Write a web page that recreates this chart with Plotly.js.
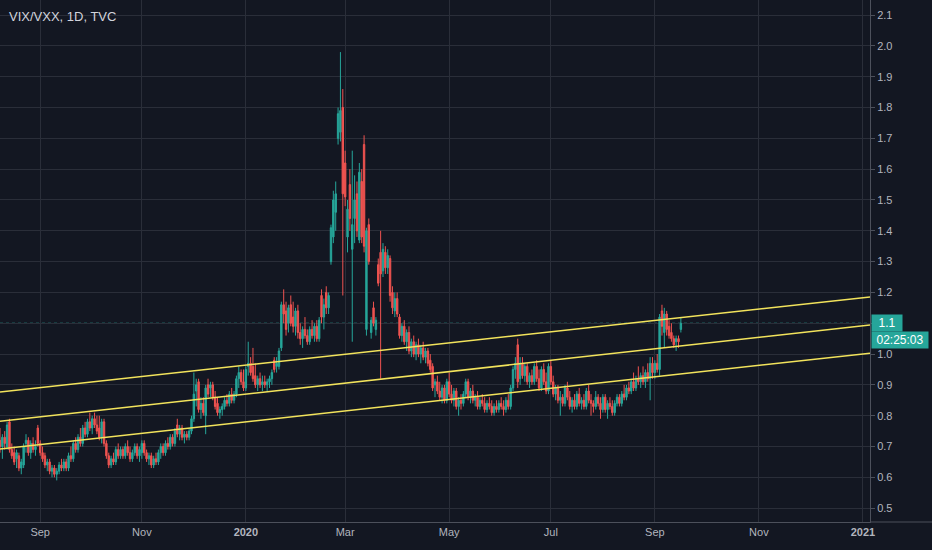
<!DOCTYPE html>
<html>
<head>
<meta charset="utf-8">
<script src="https://cdn.plot.ly/plotly-3.0.1.min.js"></script>
<style>
html,body{margin:0;padding:0;background:#131722;}
#chart{width:932px;height:550px;}
</style>
</head>
<body>
<div id="chart"></div>
<script>
// Daily OHLC of VIX/VXX, from 2019-08-09 (weekdays), one line per month
const open = [
.72,.70,.73,.70,.78,.69,.68,.66,.67,.63,.64,.71,.72,.68,.71,.69,
.76,.71,.68,.67,.64,.65,.62,.63,.61,.62,.64,.63,.65,.63,.67,.66,.71,.69,.73,.71,.76,
.74,.78,.76,.79,.77,.76,.73,.78,.71,.67,.64,.66,.65,.69,.67,.69,.67,.70,.68,.66,.68,.70,.67,
.68,.71,.68,.66,.67,.64,.66,.65,.68,.70,.68,.71,.70,.73,.71,.77,.74,.76,.73,.74,.73,
.75,.79,.88,.91,.82,.84,.80,.90,.89,.90,.86,.84,.81,.82,.83,.85,.84,.87,.85,.87,.92,.94,
.91,.89,.96,.97,.96,.93,.90,.92,.90,.91,.90,.91,.92,.98,.96,.96,1.02,1.16,1.14,1.10,1.16,1.12,1.09,
1.14,1.07,1.05,1.08,1.06,1.04,1.08,1.06,1.09,1.05,1.19,1.12,1.20,1.15,1.30,1.38,1.46,1.70,1.72,1.80,
1.62,1.38,1.55,1.34,1.44,1.52,1.37,1.56,1.68,1.08,1.42,1.07,1.15,1.08,1.29,1.33,1.27,1.33,1.28,1.31,1.20,1.14,
1.18,1.12,1.06,1.09,1.04,1.07,1.01,1.04,1.00,1.03,1.00,1.02,0.99,1.01,0.98,0.96,0.90,0.91,0.88,0.86,0.89,0.85,
0.91,0.87,0.85,0.88,0.83,0.85,0.84,0.87,0.91,0.86,0.88,0.85,0.86,0.83,0.85,0.84,0.82,0.84,0.83,0.81,0.83,
0.82,0.84,0.83,0.82,0.85,0.83,0.89,0.95,1.03,0.92,0.97,0.93,0.96,0.91,0.93,0.91,0.96,0.92,0.89,0.95,0.91,0.88,
0.96,0.91,0.87,0.89,0.85,0.86,0.84,0.89,0.86,0.83,0.85,0.83,0.87,0.84,0.85,0.83,0.88,0.85,0.84,0.83,0.86,0.84,0.82,
0.86,0.82,0.84,0.83,0.81,0.84,0.86,0.84,0.87,0.86,0.89,0.88,0.91,0.89,0.92,0.91,0.93,0.91,0.94,0.92,0.97,
0.94,0.97,0.95,1.14,1.07,1.13,1.09,1.07,1.05,1.04,1.05,1.08
];
const high = [
.76,.74,.75,.78,.79,.71,.70,.69,.68,.66,.71,.74,.73,.72,.73,.72,
.77,.72,.70,.68,.66,.66,.64,.64,.63,.65,.66,.66,.66,.68,.70,.72,.73,.74,.76,.77,.78,
.79,.81,.80,.81,.80,.80,.79,.79,.72,.68,.67,.68,.70,.71,.70,.70,.71,.72,.70,.69,.71,.71,.70,
.72,.72,.69,.68,.68,.67,.68,.69,.71,.71,.72,.73,.74,.74,.76,.79,.77,.77,.75,.75,.76,
.80,.94,.92,.92,.86,.86,.90,.92,.91,.91,.88,.86,.83,.84,.86,.87,.88,.89,.88,.93,.96,.95,
.95,.96,1.04,.99,1.02,.97,.93,.94,.93,.93,.92,.93,.95,.99,.99,1.02,1.17,1.21,1.17,1.16,1.19,1.17,1.15,
1.16,1.10,1.09,1.12,1.08,1.09,1.11,1.10,1.11,1.12,1.21,1.18,1.22,1.20,1.42,1.53,1.56,1.80,1.98,1.86,
1.66,1.50,1.60,1.66,1.58,1.56,1.62,1.60,1.71,1.41,1.44,1.12,1.17,1.12,1.31,1.40,1.36,1.35,1.34,1.32,1.22,1.20,
1.20,1.13,1.10,1.11,1.08,1.09,1.05,1.06,1.04,1.05,1.03,1.04,1.02,1.02,1.00,0.97,0.92,0.93,0.91,0.90,0.90,0.92,
0.94,0.90,0.89,0.89,0.86,0.87,0.88,0.92,0.92,0.89,0.90,0.87,0.88,0.86,0.87,0.86,0.85,0.86,0.85,0.84,0.85,
0.85,0.86,0.85,0.86,0.87,0.90,0.96,0.99,1.05,0.99,0.99,0.97,0.97,0.94,0.95,0.97,0.98,0.95,0.96,0.97,0.94,0.97,
0.98,0.93,0.90,0.90,0.88,0.87,0.90,0.91,0.88,0.86,0.87,0.88,0.89,0.86,0.87,0.89,0.90,0.87,0.85,0.88,0.87,0.86,0.87,
0.87,0.85,0.86,0.85,0.85,0.87,0.87,0.88,0.90,0.90,0.91,0.92,0.94,0.93,0.96,0.94,0.96,0.95,0.97,0.99,0.99,
0.98,1.00,1.13,1.16,1.15,1.14,1.11,1.10,1.06,1.06,1.06,1.12
];
const low = [
.68,.66,.69,.69,.68,.66,.64,.63,.62,.61,.63,.68,.67,.66,.68,.67,
.70,.67,.65,.63,.62,.61,.60,.60,.59,.61,.62,.62,.62,.62,.65,.65,.68,.68,.70,.70,.73,
.73,.75,.74,.76,.74,.72,.71,.70,.66,.63,.63,.64,.64,.66,.66,.66,.66,.67,.65,.65,.67,.66,.65,
.66,.67,.65,.64,.63,.63,.64,.64,.66,.67,.67,.69,.69,.70,.70,.73,.72,.72,.71,.72,.72,
.74,.78,.83,.81,.79,.80,.74,.86,.86,.85,.82,.80,.79,.80,.82,.83,.83,.84,.84,.86,.89,.90,
.88,.88,.93,.93,.91,.89,.88,.89,.88,.89,.88,.89,.90,.94,.94,.95,1.01,1.10,1.06,1.07,1.09,1.07,1.06,
1.05,1.03,1.02,1.05,1.03,1.03,1.05,1.04,1.04,1.04,1.10,1.08,1.13,1.13,1.29,1.36,1.40,1.68,1.69,1.19,
1.48,1.33,1.40,1.04,1.36,1.38,1.36,1.36,1.33,1.06,1.29,1.05,1.09,1.06,1.22,0.92,1.25,1.26,1.26,1.17,1.13,1.12,
1.12,1.05,1.04,1.03,1.01,1.00,0.99,0.99,0.98,0.99,0.97,0.98,0.97,0.96,0.94,0.88,0.86,0.87,0.85,0.84,0.84,0.84,
0.86,0.84,0.83,0.82,0.80,0.82,0.83,0.86,0.85,0.84,0.84,0.83,0.82,0.82,0.83,0.81,0.81,0.82,0.80,0.80,0.81,
0.81,0.82,0.80,0.81,0.82,0.82,0.88,0.92,0.89,0.90,0.92,0.91,0.90,0.89,0.90,0.90,0.91,0.88,0.88,0.90,0.87,0.87,
0.90,0.86,0.85,0.84,0.80,0.83,0.83,0.85,0.82,0.81,0.82,0.82,0.83,0.82,0.82,0.82,0.84,0.80,0.81,0.82,0.83,0.79,0.81,
0.81,0.79,0.82,0.80,0.80,0.83,0.83,0.83,0.85,0.85,0.87,0.87,0.88,0.88,0.90,0.89,0.90,0.89,0.91,0.85,0.92,
0.92,0.94,0.93,1.06,1.02,1.06,1.05,1.04,1.02,1.01,1.02,1.07
];
const close = [
.70,.73,.71,.77,.69,.67,.65,.68,.63,.65,.70,.72,.68,.71,.69,.70,
.71,.68,.66,.64,.65,.62,.63,.61,.62,.64,.63,.65,.63,.67,.66,.71,.69,.73,.71,.76,.74,
.78,.76,.79,.77,.75,.73,.78,.71,.67,.64,.66,.65,.69,.67,.69,.67,.70,.68,.66,.68,.70,.67,.69,
.71,.68,.66,.67,.64,.66,.65,.68,.70,.68,.71,.70,.73,.71,.75,.74,.76,.73,.74,.73,.75,
.79,.87,.90,.82,.84,.81,.89,.87,.90,.86,.83,.81,.82,.83,.85,.84,.87,.85,.87,.92,.94,.91,
.89,.95,.97,.94,.92,.90,.92,.90,.91,.90,.91,.92,.94,.95,.97,1.01,1.16,1.13,1.08,1.15,1.10,1.09,1.14,
1.07,1.05,1.08,1.06,1.04,1.08,1.06,1.09,1.05,1.11,1.12,1.16,1.15,1.19,1.41,1.50,1.52,1.78,1.79,1.52,
1.51,1.47,1.44,1.42,1.50,1.40,1.59,1.38,1.35,1.40,1.30,1.11,1.10,1.11,1.23,1.26,1.34,1.28,1.32,1.19,1.15,1.18,
1.13,1.06,1.09,1.04,1.07,1.01,1.04,1.00,1.03,1.00,1.02,0.99,1.01,0.97,0.95,0.89,0.91,0.88,0.86,0.89,0.85,0.91,
0.87,0.85,0.88,0.83,0.85,0.84,0.87,0.91,0.86,0.88,0.85,0.86,0.83,0.85,0.84,0.82,0.84,0.83,0.81,0.83,0.82,
0.84,0.83,0.82,0.85,0.83,0.89,0.95,0.97,0.91,0.97,0.93,0.96,0.91,0.93,0.91,0.96,0.92,0.89,0.95,0.91,0.88,0.96,
0.91,0.87,0.89,0.85,0.86,0.84,0.89,0.86,0.83,0.85,0.83,0.87,0.84,0.85,0.83,0.88,0.85,0.84,0.83,0.86,0.84,0.82,0.86,
0.82,0.84,0.83,0.81,0.84,0.86,0.84,0.87,0.86,0.89,0.88,0.91,0.89,0.92,0.91,0.93,0.91,0.94,0.92,0.97,0.94,
0.97,0.95,1.12,1.09,1.13,1.08,1.06,1.05,1.03,1.05,1.04,1.10
];

// Month tick labels (first trading day of each month) and text
const tickDates  = ['2019-09-03','2019-11-01','2020-01-02','2020-03-02','2020-05-01','2020-07-01','2020-09-01','2020-11-02','2021-01-01'];
const tickLabels = ['Sep','Nov','<b>2020</b>','Mar','May','Jul','Sep','Nov','<b>2021</b>'];
// Price-axis ticks
const yTicks = [0.5,0.6,0.7,0.8,0.9,1.0,1.1,1.2,1.3,1.4,1.5,1.6,1.7,1.8,1.9,2.0,2.1];

// Parallel channel (values at the left and right edges of the view)
const channelTop = [0.877, 1.185];
const channelMid = [0.782, 1.094];
const channelBot = [0.692, 1.003];

const startDate = '2019-08-09';
const countdown = '02:25:03';
const titleText = 'VIX/VXX, 1D, TVC';

// weekday calendar -> bar index
const dates = [];
{
  let d = new Date(startDate + 'T00:00:00Z');
  while (dates.length < close.length + 120) {
    const wd = d.getUTCDay();
    if (wd !== 0 && wd !== 6) dates.push(d.toISOString().slice(0, 10));
    d = new Date(d.getTime() + 86400000);
  }
}
const xIdx = close.map((_, i) => i);
const tickvals = tickDates.map(s => dates.indexOf(s));
const xRange = [0, 368];
const yRange = [0.455, 2.149];

const UP = '#26a69a', DOWN = '#ef5350', YEL = '#f2e35c';
const last = close[close.length - 1];
const lastLabel = last.toFixed(1);
// the live price box covers its own tick label on the price axis
const yTickText = yTicks.map(v => v.toFixed(1) === lastLabel ? '' : v.toFixed(1));

const traces = [
  {type:'scatter', mode:'lines', x:xRange, y:channelTop, line:{color:YEL, width:1.5}, hoverinfo:'skip', showlegend:false},
  {type:'scatter', mode:'lines', x:xRange, y:channelMid, line:{color:YEL, width:1.5}, hoverinfo:'skip', showlegend:false},
  {type:'scatter', mode:'lines', x:xRange, y:channelBot, line:{color:YEL, width:1.5}, hoverinfo:'skip', showlegend:false},
  {
    type:'candlestick', x:xIdx, open:open, high:high, low:low, close:close,
    increasing:{line:{color:UP, width:1}, fillcolor:UP},
    decreasing:{line:{color:DOWN, width:1}, fillcolor:DOWN},
    whiskerwidth:0, hoverinfo:'skip', showlegend:false
  }
];

const fontFam = '"Liberation Sans", "DejaVu Sans", sans-serif';
const layout = {
  width:932, height:550,
  paper_bgcolor:'#131722', plot_bgcolor:'#131722',
  margin:{l:0, r:62, t:0, b:28},
  showlegend:false,
  boxgap:0.15,
  font:{family:fontFam, color:'#b2b5be', size:11},
  xaxis:{
    type:'linear', range:xRange, rangeslider:{visible:false},
    tickvals:tickvals, ticktext:tickLabels,
    showgrid:true, gridcolor:'#2a2e39', gridwidth:1,
    zeroline:false, showline:true, linecolor:'#4c505b', linewidth:1,
    ticks:'', tickfont:{size:11, color:'#b2b5be'}, fixedrange:true
  },
  yaxis:{
    side:'right', range:yRange, tickvals:yTicks, ticktext:yTickText,
    showgrid:true, gridcolor:'#2a2e39', gridwidth:1,
    zeroline:false, showline:true, linecolor:'#4c505b', linewidth:1,
    ticks:'outside', ticklen:4, tickcolor:'#4c505b',
    tickfont:{size:11, color:'#b2b5be'}, fixedrange:true
  },
  shapes:[
    {type:'line', xref:'paper', yref:'y', x0:0, x1:1, y0:last, y1:last,
     line:{color:UP, width:1, dash:'dot'}, layer:'below'},
    {type:'line', xref:'paper', yref:'paper', x0:1, x1:1.08, y0:0, y1:0,
     line:{color:'#4c505b', width:1}}
  ],
  annotations:[
    {xref:'paper', yref:'paper', x:0, y:1, xanchor:'left', yanchor:'top',
     xshift:7, yshift:-7, showarrow:false, text:titleText,
     font:{family:fontFam, size:13, color:'#d1d4dc'}},
    {xref:'paper', yref:'y', x:1, y:last, xanchor:'left', yanchor:'middle',
     xshift:1, showarrow:false, text:lastLabel, width:28, height:14, align:'center',
     bgcolor:UP, borderpad:1, font:{family:fontFam, size:12, color:'#ffffff'}},
    {xref:'paper', yref:'y', x:1, y:last, xanchor:'left', yanchor:'middle',
     xshift:1, yshift:-17, showarrow:false, text:countdown, width:54, height:14, align:'center',
     bgcolor:UP, borderpad:1, font:{family:fontFam, size:12, color:'#ffffff'}}
  ]
};

Plotly.newPlot('chart', traces, layout, {displayModeBar:false, staticPlot:true});
</script>
</body>
</html>
